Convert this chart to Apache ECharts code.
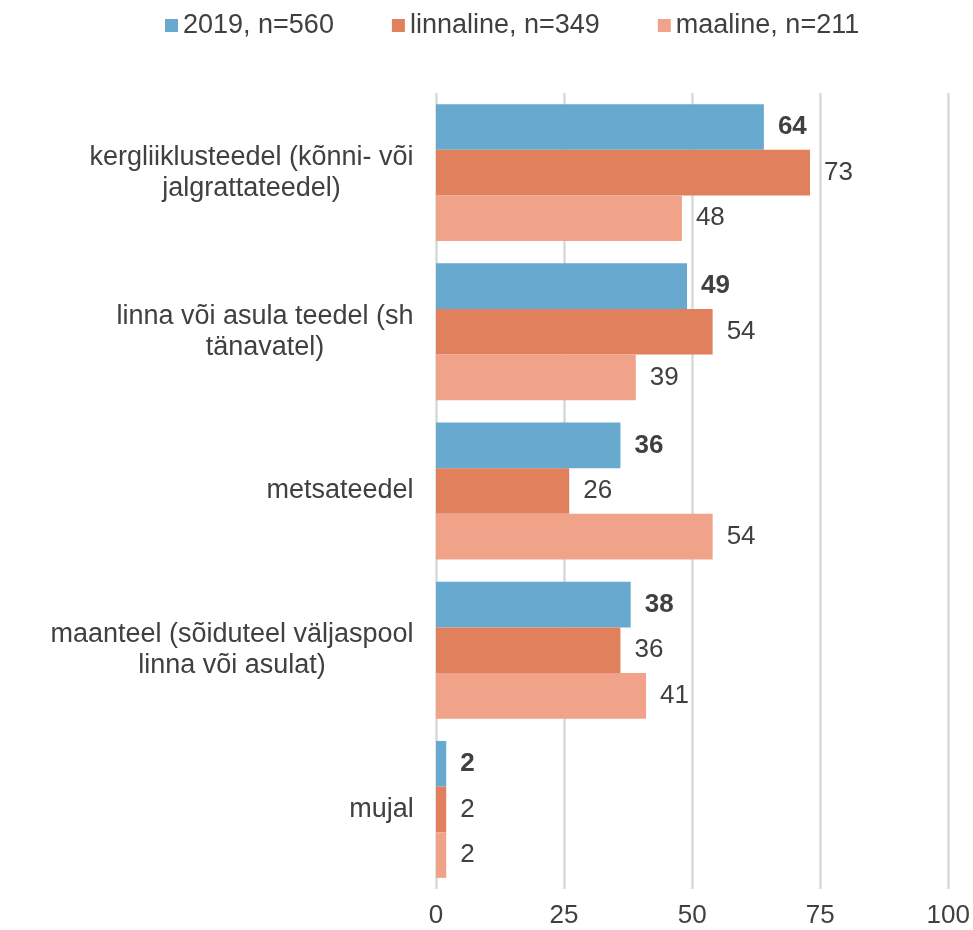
<!DOCTYPE html>
<html>
<head>
<meta charset="utf-8">
<script src="https://cdn.jsdelivr.net/npm/echarts@6/dist/echarts.min.js"></script>
<style>
  html, body { margin: 0; padding: 0; background: #fff; }
  #chart { width: 973px; height: 930px; }
</style>
</head>
<body>
<div id="chart"></div>
<script>
  var categories = [
    'kergliiklusteedel (kõnni- või\njalgrattateedel)',
    'linna või asula teedel (sh\ntänavatel)',
    'metsateedel',
    'maanteel (sõiduteel väljaspool\nlinna või asulat)',
    'mujal'
  ]
  var seriesNames = ['2019, n=560', 'linnaline, n=349', 'maaline, n=211']
  var total2019 = [64, 49, 36, 38, 2]
  var linnaline = [73, 54, 26, 36, 2]
  var maaline = [48, 39, 54, 41, 2]
  var xTicks = [0, 25, 50, 75, 100]

  var font = '"Liberation Sans", Arial, Helvetica, sans-serif'
  var textColor = '#404040'

  // measure widest line of each category so lines can be centred like Excel
  var ctx = document.createElement('canvas').getContext('2d')
  ctx.font = '27px ' + font
  var rich = {}
  categories.forEach(function (c, i) {
    var w = 0
    c.split('\n').forEach(function (l) {
      w = Math.max(w, ctx.measureText(l).width)
    })
    rich['c' + i] = {
      width: Math.ceil(w),
      align: 'center',
      fontSize: 27,
      lineHeight: 31,
      color: textColor,
      fontFamily: font
    }
  })

  var myChart = echarts.init(document.getElementById('chart'))
  var option = {
    animation: false,
    textStyle: { fontFamily: font },
    legend: {
      left: 160,
      top: 7,
      itemWidth: 13,
      itemHeight: 13,
      itemGap: 58,
      icon: 'rect',
      textStyle: { fontSize: 27, color: textColor, fontFamily: font },
      data: seriesNames
    },
    grid: {
      top: 93,
      left: 436,
      right: 24,
      bottom: 41,
      containLabel: false
    },
    xAxis: {
      type: 'value',
      min: 0,
      max: 100,
      interval: 25,
      axisLine: { show: false },
      axisTick: { show: false },
      splitLine: { lineStyle: { color: '#d9d9d9', width: 2.5 } },
      axisLabel: {
        margin: 14,
        fontSize: 26,
        color: textColor,
        formatter: function (v) {
          return xTicks.indexOf(v) > -1 ? String(v) : ''
        }
      }
    },
    yAxis: {
      type: 'category',
      inverse: true,
      data: categories,
      axisLine: { show: false },
      axisTick: { show: false },
      axisLabel: {
        margin: 22,
        rich: rich,
        formatter: function (v) {
          var i = categories.indexOf(v)
          return v.split('\n').map(function (l) {
            return '{c' + i + '|' + l + '}'
          }).join('\n')
        }
      }
    },
    series: [{
      name: seriesNames[0],
      type: 'bar',
      data: total2019,
      barGap: '0%',
      barCategoryGap: '14%',
      itemStyle: { color: '#67a9cf' },
      label: {
        show: true,
        position: 'right',
        distance: 14,
        fontSize: 26,
        fontWeight: 'bold',
        color: textColor
      }
    }, {
      name: seriesNames[1],
      type: 'bar',
      data: linnaline,
      barGap: '0%',
      barCategoryGap: '14%',
      itemStyle: { color: '#e0805c' },
      label: {
        show: true,
        position: 'right',
        distance: 14,
        fontSize: 26,
        color: textColor
      }
    }, {
      name: seriesNames[2],
      type: 'bar',
      data: maaline,
      barGap: '0%',
      barCategoryGap: '14%',
      itemStyle: { color: '#f0a389' },
      label: {
        show: true,
        position: 'right',
        distance: 14,
        fontSize: 26,
        color: textColor
      }
    }]
  }
  option && myChart.setOption(option)
  window.addEventListener('resize', myChart.resize)
</script>
</body>
</html>
